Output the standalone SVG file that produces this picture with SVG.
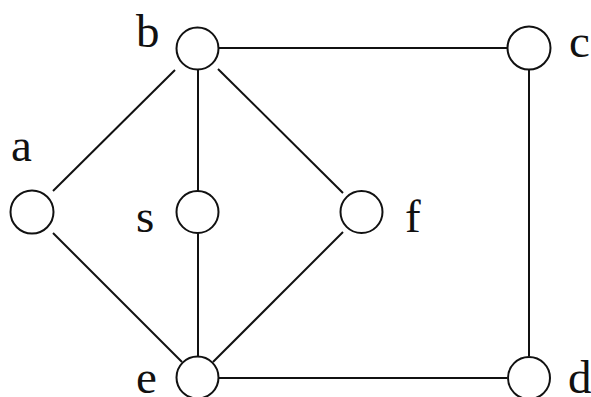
<svg xmlns="http://www.w3.org/2000/svg" width="591" height="397" viewBox="0 0 591 397">
<style>
.node{fill:none;stroke:#111;stroke-width:2}
.edge{stroke:#111;stroke-width:2;fill:none}
.lbl{font-family:"Liberation Serif","Times New Roman",serif;font-size:47px;fill:#111}
</style>
<rect width="591" height="397" fill="#fff"/>
<g id="connectors">
<line class="edge" x1="219" y1="48" x2="507" y2="48"/>
<line class="edge" x1="529" y1="70" x2="529" y2="356"/>
<line class="edge" x1="219" y1="378" x2="507" y2="378"/>
<line class="edge" x1="175" y1="70" x2="53" y2="191"/>
<line class="edge" x1="198" y1="70" x2="198" y2="191"/>
<line class="edge" x1="218" y1="69" x2="343" y2="193"/>
<line class="edge" x1="53" y1="233" x2="182" y2="362"/>
<line class="edge" x1="198" y1="233" x2="198" y2="356"/>
<line class="edge" x1="343" y1="232" x2="213" y2="362"/>
</g>
<g id="node-b"><circle class="node" cx="197.5" cy="48.5" r="21"/><text class="lbl" x="136" y="47">b</text></g>
<g id="node-c"><circle class="node" cx="529" cy="48" r="21.5"/><text class="lbl" x="569" y="57">c</text></g>
<g id="node-a"><circle class="node" cx="32" cy="212" r="21.5"/><text class="lbl" x="11" y="161">a</text></g>
<g id="node-s"><circle class="node" cx="197.5" cy="212" r="21"/><text class="lbl" x="136" y="232">s</text></g>
<g id="node-f"><circle class="node" cx="361.5" cy="212" r="21"/><text class="lbl" x="405" y="232">f</text></g>
<g id="node-e"><circle class="node" cx="197.5" cy="377.5" r="21"/><text class="lbl" x="136" y="393">e</text></g>
<g id="node-d"><circle class="node" cx="529" cy="378" r="21"/><text class="lbl" x="568" y="393">d</text></g>
</svg>
